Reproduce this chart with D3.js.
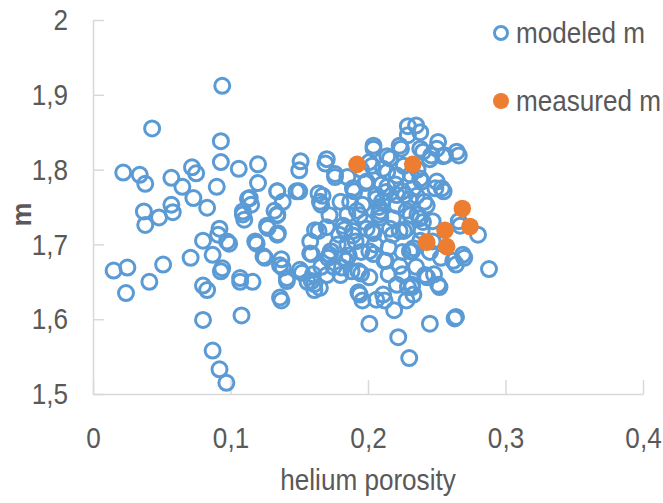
<!DOCTYPE html>
<html>
  <head>
    <title>m vs helium porosity</title>
    <meta charset="UTF-8" />
    <style>
      body { margin: 0; background: #fff; }
      text { font-family: "Liberation Sans", Arial, sans-serif; fill: #595959; }
    </style>
  </head>
  <body>
    <script src="https://cdn.jsdelivr.net/npm/d3@7/dist/d3.min.js" charset="utf-8"></script>
    <script>
      // modeled m (open blue circles)
      var modeledX = [
        0.015, 0.025, 0.024, 0.022, 0.034, 0.038, 0.037, 0.038, 0.043, 0.041,
        0.048, 0.051, 0.057, 0.057, 0.058, 0.065, 0.072, 0.073, 0.071, 0.075,
        0.083, 0.080, 0.080, 0.083, 0.080, 0.087, 0.087, 0.091, 0.092, 0.097,
        0.094, 0.093, 0.093, 0.090, 0.093, 0.099, 0.106, 0.108, 0.107, 0.116,
        0.109, 0.110, 0.114, 0.115, 0.120, 0.120, 0.119, 0.125, 0.127, 0.134,
        0.134, 0.134, 0.132, 0.137, 0.137, 0.138, 0.141, 0.138, 0.151, 0.150,
        0.150, 0.152, 0.159, 0.158, 0.161, 0.161, 0.164, 0.164, 0.166, 0.169,
        0.170, 0.171, 0.173, 0.176, 0.179, 0.181, 0.183, 0.184, 0.185, 0.187,
        0.188, 0.190, 0.191, 0.193, 0.195, 0.196, 0.196, 0.198, 0.201, 0.201,
        0.203, 0.204, 0.204, 0.206, 0.208, 0.209, 0.210, 0.212, 0.213, 0.214,
        0.215, 0.216, 0.218, 0.219, 0.221, 0.222, 0.224, 0.225, 0.226, 0.227,
        0.229, 0.229, 0.230, 0.231, 0.232, 0.232, 0.235, 0.236, 0.238, 0.239,
        0.239, 0.241, 0.243, 0.245, 0.246, 0.247, 0.249, 0.250, 0.252, 0.253,
        0.255, 0.256, 0.263, 0.264, 0.264, 0.266, 0.266, 0.270, 0.280, 0.288,
        0.170, 0.176, 0.167, 0.189, 0.199, 0.204, 0.201, 0.211, 0.214, 0.206,
        0.223, 0.229, 0.221, 0.225, 0.233, 0.180, 0.172, 0.182, 0.194, 0.209,
        0.221, 0.231, 0.199, 0.216, 0.228, 0.189, 0.214,
        0.172, 0.182, 0.193, 0.201, 0.212, 0.223, 0.232, 0.233, 0.194, 0.206,
        0.228, 0.170, 0.180, 0.165, 0.189, 0.204, 0.223, 0.211, 0.221,
        0.238, 0.251, 0.2645, 0.2545, 0.240, 0.245, 0.250, 0.238, 0.2536, 0.2354,
        0.2427, 0.238, 0.247, 0.267,
        0.2305, 0.2415, 0.251, 0.233, 0.262, 0.269,
        0.1127, 0.109, 0.0975, 0.092, 0.118, 0.124, 0.1265, 0.134, 0.1345, 0.134,
        0.148, 0.165, 0.136, 0.141, 0.1505, 0.136, 0.158, 0.1615, 0.159, 0.107,
        0.094,
        0.185, 0.195, 0.205, 0.215, 0.225, 0.235, 0.245, 0.240, 0.230, 0.220,
        0.210, 0.195, 0.185, 0.178, 0.175, 0.166, 0.160, 0.156, 0.198, 0.208,
        0.218, 0.228, 0.238, 0.248, 0.192, 0.203, 0.213, 0.226, 0.236, 0.186
      ];
      var modeledY = [
        1.665, 1.669, 1.635, 1.796, 1.793, 1.781, 1.744, 1.726, 1.855, 1.650,
        1.736, 1.673, 1.789, 1.753, 1.743, 1.777, 1.803, 1.762, 1.682, 1.795,
        1.749, 1.705, 1.645, 1.639, 1.599, 1.686, 1.558, 1.713, 1.533, 1.515,
        1.912, 1.838, 1.810, 1.777, 1.664, 1.701, 1.801, 1.605, 1.650, 1.650,
        1.740, 1.733, 1.762, 1.753, 1.807, 1.782, 1.701, 1.682, 1.722, 1.771,
        1.740, 1.713, 1.745, 1.625, 1.680, 1.669, 1.651, 1.757, 1.811, 1.799,
        1.771, 1.662, 1.687, 1.704, 1.647, 1.639, 1.718, 1.768, 1.753, 1.808,
        1.723, 1.682, 1.691, 1.790, 1.713, 1.669, 1.720, 1.678, 1.740, 1.757,
        1.664, 1.771, 1.704, 1.636, 1.661, 1.753, 1.625, 1.782, 1.594, 1.656,
        1.718, 1.828, 1.687, 1.766, 1.740, 1.736, 1.757, 1.625, 1.678, 1.797,
        1.696, 1.815, 1.713, 1.612, 1.766, 1.576, 1.828, 1.660, 1.718, 1.766,
        1.846, 1.643, 1.548, 1.793, 1.691, 1.643, 1.859, 1.740, 1.828, 1.718,
        1.784, 1.757, 1.656, 1.594, 1.819, 1.704, 1.775, 1.828, 1.643, 1.682,
        1.771, 1.819, 1.601, 1.603, 1.673, 1.819, 1.731, 1.682, 1.713, 1.667,
        1.814, 1.794, 1.765, 1.775, 1.784, 1.832, 1.810, 1.801, 1.777, 1.761,
        1.832, 1.858, 1.792, 1.771, 1.775, 1.757, 1.739, 1.725, 1.739, 1.744,
        1.752, 1.739, 1.721, 1.721, 1.721, 1.718, 1.818,
        1.686, 1.682, 1.664, 1.691, 1.678, 1.671, 1.646, 1.695, 1.633, 1.626,
        1.625, 1.659, 1.659, 1.642, 1.712, 1.715, 1.718, 1.633, 1.646,
        1.850, 1.837, 1.824, 1.818, 1.824, 1.814, 1.784, 1.788, 1.775, 1.765,
        1.752, 1.735, 1.731, 1.725,
        1.691, 1.659, 1.646, 1.633, 1.678, 1.686,
        1.761, 1.744, 1.704, 1.721, 1.704, 1.684, 1.725, 1.739, 1.715, 1.771,
        1.771, 1.757, 1.672, 1.655, 1.666, 1.629, 1.688, 1.719, 1.651, 1.655,
        1.668,
        1.700, 1.690, 1.700, 1.660, 1.690, 1.670, 1.690, 1.730, 1.760, 1.780,
        1.780, 1.800, 1.790, 1.700, 1.670, 1.670, 1.660, 1.650, 1.730, 1.750,
        1.735, 1.745, 1.705, 1.660, 1.745, 1.805, 1.770, 1.805, 1.800, 1.685
      ];

      // measured m (filled orange)
      var measuredX = [0.192, 0.2325, 0.2686, 0.2742, 0.256, 0.2427, 0.2572];
      var measuredY = [1.807, 1.807, 1.748, 1.724, 1.719, 1.703, 1.697];

      var xTicks = [0, 0.1, 0.2, 0.3, 0.4];
      var xTickLabels = ["0", "0,1", "0,2", "0,3", "0,4"];
      var yTicks = [1.5, 1.6, 1.7, 1.8, 1.9, 2];
      var yTickLabels = ["1,5", "1,6", "1,7", "1,8", "1,9", "2"];
      var seriesNames = ["modeled m", "measured m"];
      var seriesColors = ["#5b9bd5", "#ed7d31"];

      var modeled = modeledX.map(function(x, i) { return { x: x, y: modeledY[i] }; });
      var measured = measuredX.map(function(x, i) { return { x: x, y: measuredY[i] }; });

      var width = 663, height = 503;
      var margin = { left: 93, right: 20, top: 20, bottom: 109 };
      var squeeze = 0.87; // narrow glyphs like the original

      var svg = d3.select("body")
                .append("svg")
                .attr("width", width)
                .attr("height", height);

      var x = d3.scaleLinear().domain([0, 0.4]).range([margin.left, width - margin.right]);
      var y = d3.scaleLinear().domain([1.5, 2]).range([height - margin.bottom, margin.top]);

      var yAxis = d3.axisLeft(y)
                .tickValues(yTicks)
                .tickFormat(function(d, i) { return yTickLabels[i]; })
                .tickSizeInner(-11)
                .tickSizeOuter(0)
                .tickPadding(25);

      var xAxis = d3.axisBottom(x)
                .tickValues(xTicks)
                .tickFormat(function(d, i) { return xTickLabels[i]; })
                .tickSizeInner(-14)
                .tickSizeOuter(0)
                .tickPadding(33);

      var gy = svg.append("g")
                .attr("transform", "translate(" + margin.left + ",0)")
                .call(yAxis);
      var gx = svg.append("g")
                .attr("transform", "translate(0," + (height - margin.bottom) + ")")
                .call(xAxis);

      [gx, gy].forEach(function(g) {
        g.select(".domain").attr("stroke", "#d9d9d9").attr("stroke-width", 1.5);
        g.selectAll(".tick line").attr("stroke", "#d9d9d9").attr("stroke-width", 1.5);
        g.selectAll(".tick text")
          .style("font-family", "'Liberation Sans', Arial, sans-serif")
          .style("font-size", "30px")
          .attr("fill", "#595959")
          .attr("transform", function() {
            var tx = +this.getAttribute("x") || 0;
            return "translate(" + tx + ",0) scale(" + squeeze + ",1)";
          })
          .attr("x", 0);
      });

      // axis titles
      svg.append("text")
        .attr("transform", "translate(" + ((x(0) + x(0.4)) / 2) + ",490) scale(" + squeeze + ",1)")
        .attr("text-anchor", "middle")
        .style("font-size", "30px")
        .text("helium porosity");

      svg.append("text")
        .attr("transform", "translate(31," + y(1.74) + ") rotate(-90)")
        .attr("text-anchor", "middle")
        .style("font-size", "27px")
        .style("font-weight", "bold")
        .text("m");

      // points
      svg.append("g")
        .selectAll("circle")
        .data(modeled)
        .enter()
        .append("circle")
        .attr("cx", function(d) { return x(d.x); })
        .attr("cy", function(d) { return y(d.y); })
        .attr("r", 7.5)
        .style("fill", "none")
        .style("stroke", seriesColors[0])
        .style("stroke-width", 3);

      svg.append("g")
        .selectAll("circle")
        .data(measured)
        .enter()
        .append("circle")
        .attr("cx", function(d) { return x(d.x); })
        .attr("cy", function(d) { return y(d.y); })
        .attr("r", 8.8)
        .style("fill", seriesColors[1]);

      // legend
      var legend = svg.append("g");
      var legendY = [33, 101];
      legend.append("circle")
        .attr("cx", 501).attr("cy", legendY[0]).attr("r", 6.5)
        .style("fill", "none").style("stroke", seriesColors[0]).style("stroke-width", 3);
      legend.append("circle")
        .attr("cx", 501).attr("cy", legendY[1]).attr("r", 8)
        .style("fill", seriesColors[1]);
      seriesNames.forEach(function(name, i) {
        legend.append("text")
          .attr("transform", "translate(516," + (legendY[i] + 10) + ") scale(" + squeeze + ",1)")
          .style("font-size", "30px")
          .text(name);
      });
    </script>
  </body>
</html>
